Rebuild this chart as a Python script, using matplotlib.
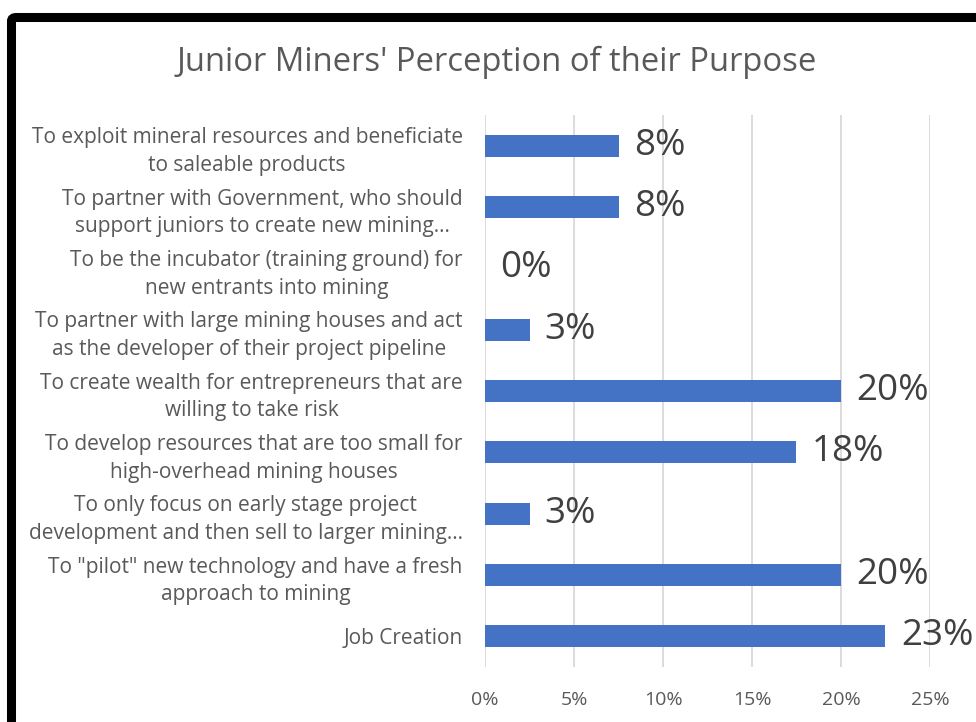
import matplotlib
matplotlib.use("Agg")
import matplotlib.pyplot as plt
from matplotlib.patches import FancyBboxPatch

plt.rcParams['font.family'] = ['Open Sans', 'DejaVu Sans']

title = "Junior Miners' Perception of their Purpose"
categories = [
    "Job Creation",
    "To \"pilot\" new technology and have a fresh\napproach to mining",
    "To only focus on early stage project\ndevelopment and then sell to larger mining…",
    "To develop resources that are too small for\nhigh-overhead mining houses",
    "To create wealth for entrepreneurs that are\nwilling to take risk",
    "To partner with large mining houses and act\nas the developer of their project pipeline",
    "To be the incubator (training ground) for\nnew entrants into mining",
    "To partner with Government, who should\nsupport juniors to create new mining…",
    "To exploit mineral resources and beneficiate\nto saleable products",
]
values = [0.225, 0.20, 0.025, 0.175, 0.20, 0.025, 0.0, 0.075, 0.075]
value_labels = ["23%", "20%", "3%", "18%", "20%", "3%", "0%", "8%", "8%"]
xticks = [0, 0.05, 0.10, 0.15, 0.20, 0.25]
xtick_labels = ["0%", "5%", "10%", "15%", "20%", "25%"]

fig = plt.figure(figsize=(9.76, 7.22), dpi=100)
ax = fig.add_axes([485/976, 1-667/722, (930-485)/976, (667-115)/722])

y = list(range(len(categories)))
ax.barh(y, values, height=0.36, color="#4472C4", zorder=3)
ax.set_xlim(0, 0.25)
ax.set_ylim(-0.5, len(categories)-0.5)
ax.set_xticks(xticks)
ax.set_xticklabels(xtick_labels, fontsize=14, color="#595959")
ax.set_yticks(y)
ax.set_yticklabels(categories, fontsize=15, color="#595959", linespacing=1.42)
for t in ax.get_yticklabels():
    t.set_multialignment('center')
ax.tick_params(axis='y', length=0, pad=16)
ax.tick_params(axis='x', length=0, pad=17)
for s in ax.spines.values():
    s.set_visible(False)
ax.grid(axis='x', color="#d9d9d9", linewidth=1.3, zorder=0)
ax.set_axisbelow(True)

for yi, v, lab in zip(y, values, value_labels):
    ax.annotate(lab, (v, yi), xytext=(11, 0), textcoords='offset points',
                ha='left', va='center', fontsize=26.5, color="#404040",
                annotation_clip=False)

fig.text(497/976, 1-62/722, title, ha='center', va='center', fontsize=23.6, color="#595959")

border = FancyBboxPatch((11.5/976, -0.05), 1.1, 1.05 - 17.5/722 + 0.0,
                        boxstyle="round,pad=0,rounding_size=0.005",
                        transform=fig.transFigure, fill=False,
                        edgecolor="black", linewidth=6.5, clip_on=False)
fig.patches.append(border)

fig.savefig("out.png", dpi=100)
